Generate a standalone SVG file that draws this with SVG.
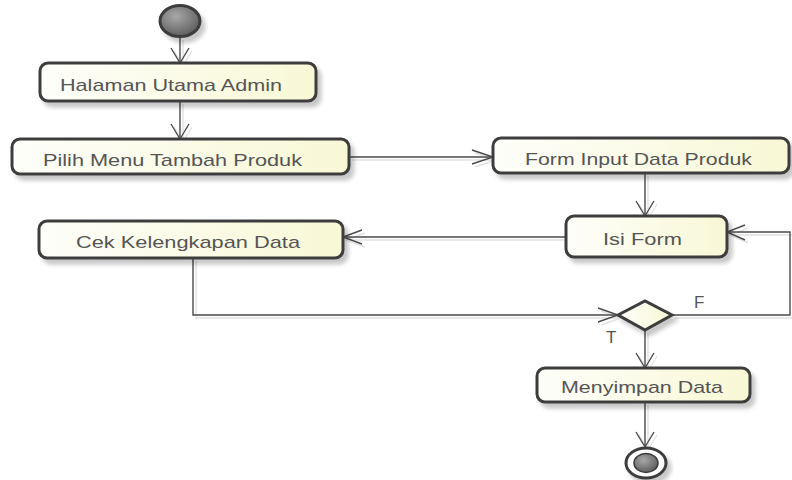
<svg xmlns="http://www.w3.org/2000/svg" width="792" height="480" viewBox="0 0 792 480">
  <defs>
    <linearGradient id="boxFill" x1="0" y1="0" x2="1" y2="0">
      <stop offset="0" stop-color="#fefefa"/>
      <stop offset="1" stop-color="#f8f8d6"/>
    </linearGradient>
    <radialGradient id="ballFill" cx="0.4" cy="0.35" r="0.7">
      <stop offset="0" stop-color="#a8a8a8"/>
      <stop offset="1" stop-color="#5a5a5a"/>
    </radialGradient>
    <filter id="shadow" x="-10%" y="-30%" width="130%" height="180%">
      <feGaussianBlur in="SourceAlpha" stdDeviation="2"/>
      <feOffset dx="4" dy="5" result="b"/>
      <feComponentTransfer><feFuncA type="linear" slope="0.22"/></feComponentTransfer>
      <feMerge><feMergeNode/><feMergeNode in="SourceGraphic"/></feMerge>
    </filter>
    <filter id="lineShadow" x="-5%" y="-5%" width="110%" height="110%">
      <feOffset in="SourceAlpha" dx="3" dy="3"/>
      <feComponentTransfer><feFuncA type="linear" slope="0.12"/></feComponentTransfer>
      <feMerge><feMergeNode/><feMergeNode in="SourceGraphic"/></feMerge>
    </filter>
  </defs>
  <style>
    .box { fill: url(#boxFill); stroke: #3c3c3c; stroke-width: 3; filter: url(#shadow); }
    .lbl { font-family: "Liberation Sans", Arial, sans-serif; font-size: 17px; fill: #555555; }
    .con { fill: none; stroke: #4a4a4a; stroke-width: 1.4; }
  </style>
  <rect width="792" height="480" fill="#ffffff"/>

  <g id="connectors" filter="url(#lineShadow)">
    <path class="con" d="M180,37 L180,62"/>
    <path class="con" d="M171,48 L180,63 L189,48"/>
    <path class="con" d="M180,101 L180,138"/>
    <path class="con" d="M171,124 L180,139 L189,124"/>
    <path class="con" d="M349,157 L492,157"/>
    <path class="con" d="M472,150 L493,157 L472,164"/>
    <path class="con" d="M645,173 L645,215"/>
    <path class="con" d="M636,201 L645,216 L654,201"/>
    <path class="con" d="M566,237 L344,237"/>
    <path class="con" d="M362,230 L343,237 L362,244"/>
    <path class="con" d="M193,258 L193,315 L617,315"/>
    <path class="con" d="M598,308 L618,315 L598,322"/>
    <path class="con" d="M672,315 L790,315 L790,232 L728,232"/>
    <path class="con" d="M745,225 L727,232 L745,240"/>
    <path class="con" d="M645,330 L645,367"/>
    <path class="con" d="M636,353 L645,368 L654,353"/>
    <path class="con" d="M645,402 L645,446"/>
    <path class="con" d="M636,432 L645,447 L654,432"/>
  </g>

  <g id="start">
    <ellipse cx="180" cy="21" rx="20" ry="15.5" fill="url(#ballFill)" stroke="#3c3c3c" stroke-width="3" filter="url(#shadow)"/>
  </g>

  <g id="halaman">
    <rect class="box" x="40" y="63" width="276" height="38" rx="8"/>
    <text class="lbl" x="60" y="91" textLength="222" lengthAdjust="spacingAndGlyphs">Halaman Utama Admin</text>
  </g>

  <g id="pilih">
    <rect class="box" x="12" y="139" width="337" height="35" rx="8"/>
    <text class="lbl" x="43" y="166" textLength="259" lengthAdjust="spacingAndGlyphs">Pilih Menu Tambah Produk</text>
  </g>

  <g id="form">
    <rect class="box" x="493" y="138" width="296" height="35" rx="8"/>
    <text class="lbl" x="525" y="165" textLength="227" lengthAdjust="spacingAndGlyphs">Form Input Data Produk</text>
  </g>

  <g id="isi">
    <rect class="box" x="566" y="216" width="161" height="41" rx="8"/>
    <text class="lbl" x="603" y="245" textLength="79" lengthAdjust="spacingAndGlyphs">Isi Form</text>
  </g>

  <g id="cek">
    <rect class="box" x="39" y="221" width="304" height="37" rx="8"/>
    <text class="lbl" x="76" y="248" textLength="224" lengthAdjust="spacingAndGlyphs">Cek Kelengkapan Data</text>
  </g>

  <g id="decision">
    <polygon points="618,315 645,301 672,315 645,330" fill="url(#boxFill)" stroke="#3c3c3c" stroke-width="3" filter="url(#shadow)"/>
    <text class="lbl" x="694" y="308">F</text>
    <text class="lbl" x="606" y="343">T</text>
  </g>

  <g id="menyimpan">
    <rect class="box" x="537" y="368" width="213" height="34" rx="8"/>
    <text class="lbl" x="561" y="393" textLength="162" lengthAdjust="spacingAndGlyphs">Menyimpan Data</text>
  </g>

  <g id="end">
    <ellipse cx="646" cy="463" rx="20" ry="15" fill="#ffffff" stroke="#3c3c3c" stroke-width="3" filter="url(#shadow)"/>
    <ellipse cx="646" cy="463" rx="12" ry="9.5" fill="url(#ballFill)" stroke="#3c3c3c" stroke-width="1.5"/>
  </g>
</svg>
